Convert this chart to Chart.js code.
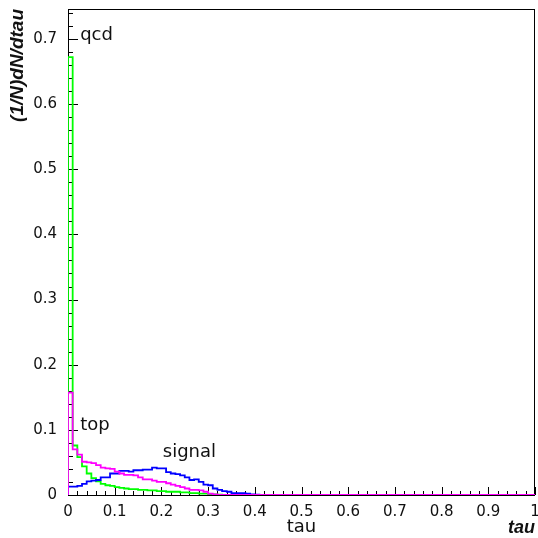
<!DOCTYPE html>
<html>
<head>
<meta charset="utf-8">
<script src="https://cdn.jsdelivr.net/npm/chart.js@4.4.1/dist/chart.umd.min.js"></script>
<style>
html, body { margin: 0; padding: 0; background: #fff; }
</style>
</head>
<body>
<canvas id="grafica" width="538" height="538"></canvas>
<script>
// histogram: 100 bins from 0 to 1, values per bin (bins not listed are 0)
const nBins = 100;
const binWidth = 0.01;

const values_qcd = [0.672, 0.076, 0.058, 0.044, 0.033, 0.026, 0.021, 0.017, 0.015, 0.014,
                    0.012, 0.011, 0.010, 0.009, 0.009, 0.008, 0.008, 0.007, 0.007, 0.006,
                    0.006, 0.005, 0.005, 0.005, 0.004, 0.004, 0.003, 0.003, 0.002, 0.002,
                    0.001, 0.001, 0.0005];
const values_top = [0.157, 0.070, 0.062, 0.051, 0.050, 0.049, 0.046, 0.042, 0.041, 0.040,
                    0.036, 0.033, 0.031, 0.031, 0.030, 0.027, 0.024, 0.024, 0.022, 0.020,
                    0.020, 0.018, 0.016, 0.014, 0.012, 0.010, 0.008, 0.008, 0.007, 0.005,
                    0.002, 0.001];
const values_signal = [0.013, 0.013, 0.014, 0.017, 0.021, 0.022, 0.023, 0.027, 0.027, 0.033,
                       0.033, 0.037, 0.037, 0.036, 0.038, 0.038, 0.039, 0.039, 0.042, 0.041,
                       0.041, 0.035, 0.033, 0.032, 0.030, 0.027, 0.023, 0.024, 0.020, 0.016,
                       0.015, 0.010, 0.008, 0.006, 0.005, 0.003, 0.003, 0.003, 0.002, 0.001,
                       0.0005];

const ticks_x = [0, 0.1, 0.2, 0.3, 0.4, 0.5, 0.6, 0.7, 0.8, 0.9, 1];
const ticks_y = [0, 0.1, 0.2, 0.3, 0.4, 0.5, 0.6, 0.7];

// labels placed on the plot (data coordinates)
const etiquetas = [
    { text: 'qcd', x: 0.026, y: 0.705 },
    { text: 'top', x: 0.026, y: 0.107 },
    { text: 'signal', x: 0.203, y: 0.066 }
];

const fuente = 'DejaVu Sans';

// points at the left edge of every bin, plus the right edge of the last one
function histo(vals){
    let pts = [{x: 0, y: 0}];
    for(let i = 0; i < nBins; i++){
        let v = i < vals.length ? vals[i] : 0;
        pts.push({x: i * binWidth, y: v});
    }
    pts.push({x: nBins * binWidth, y: 0});
    return pts;
}

function sinPadding(s){
    s.paddingTop = 0; s.paddingBottom = 0;
    s.paddingLeft = 0; s.paddingRight = 0;
}

// frame + inward ticks (ROOT style)
const marco = {
    id: 'marco',
    beforeDatasetsDraw(chart){
        const {ctx, chartArea: a, scales} = chart;
        ctx.save();
        ctx.strokeStyle = '#000';
        ctx.lineWidth = 1;
        ctx.strokeRect(a.left + 0.5, a.top + 0.5, a.right - a.left - 1, a.bottom - a.top);
        ctx.beginPath();
        for(let k = 0; k <= 50; k++){
            let v = k * 0.02;
            let px = Math.round(scales.x.getPixelForValue(v)) + 0.5;
            let len = (k % 5 == 0) ? 8 : 4;
            ctx.moveTo(px, a.bottom);
            ctx.lineTo(px, a.bottom - len);
        }
        for(let k = 0; k * 0.02 <= scales.y.max; k++){
            let v = k * 0.02;
            let py = Math.round(scales.y.getPixelForValue(v)) + 0.5;
            let len = (k % 5 == 0) ? 10 : 5;
            ctx.moveTo(a.left, py);
            ctx.lineTo(a.left + len, py);
        }
        ctx.stroke();
        ctx.restore();
    },
    afterDatasetsDraw(chart){
        const {ctx, chartArea: a, scales} = chart;
        ctx.save();
        ctx.fillStyle = '#111';
        ctx.textBaseline = 'middle';
        ctx.font = '18px "' + fuente + '"';
        etiquetas.forEach(e => {
            ctx.textAlign = 'left';
            ctx.fillText(e.text, scales.x.getPixelForValue(e.x), scales.y.getPixelForValue(e.y));
        });
        // axis titles
        ctx.textAlign = 'center';
        ctx.fillText('tau', (a.left + a.right) / 2, 527);
        ctx.font = 'italic bold 18px "Liberation Sans"';
        ctx.textAlign = 'right';
        ctx.fillText('tau', a.right, 528);
        ctx.translate(18, a.top);
        ctx.rotate(-Math.PI / 2);
        ctx.font = 'italic bold 19px "Liberation Sans"';
        ctx.textAlign = 'right';
        ctx.fillText('(1/N)dN/dtau', 0, 0);
        ctx.restore();
    }
};

const ctx = document.getElementById('grafica');
let ch = new Chart(ctx, {
    type: 'line',
    data: {
        datasets: [{
            label: 'top',
            data: histo(values_top),
            borderColor: '#ff00ff',
            order: 0
        }, {
            label: 'signal',
            data: histo(values_signal),
            borderColor: '#0000ff',
            order: 1
        }, {
            label: 'qcd',
            data: histo(values_qcd),
            borderColor: '#00ff00',
            order: 2
        }]
    },
    options: {
        responsive: false,
        animation: false,
        devicePixelRatio: 1,
        layout: { padding: { top: 9, right: 3, left: 0, bottom: 0 } },
        elements: {
            point: { radius: 0 },
            line: { stepped: 'before', borderWidth: 1.8, fill: false, tension: 0 }
        },
        plugins: {
            legend: { display: false },
            tooltip: { enabled: false }
        },
        scales: {
            x: {
                type: 'linear',
                min: 0,
                max: 1,
                grid: { display: false, drawTicks: false },
                border: { display: false },
                afterBuildTicks: s => { s.ticks = ticks_x.map(v => ({value: v})); },
                afterFit: s => { s.height = 43; sinPadding(s); },
                ticks: {
                    padding: 8,
                    color: '#111',
                    font: { family: fuente, size: 15 },
                    callback: v => String(Number(v.toFixed(1)))
                }
            },
            y: {
                type: 'linear',
                min: 0,
                max: 0.746,
                grid: { display: false, drawTicks: false },
                border: { display: false },
                afterBuildTicks: s => { s.ticks = ticks_y.map(v => ({value: v})); },
                afterFit: s => { s.width = 68; sinPadding(s); },
                ticks: {
                    padding: 11,
                    color: '#111',
                    font: { family: fuente, size: 15 },
                    callback: v => String(Number(v.toFixed(1)))
                }
            }
        }
    },
    plugins: [marco]
});
</script>
</body>
</html>
